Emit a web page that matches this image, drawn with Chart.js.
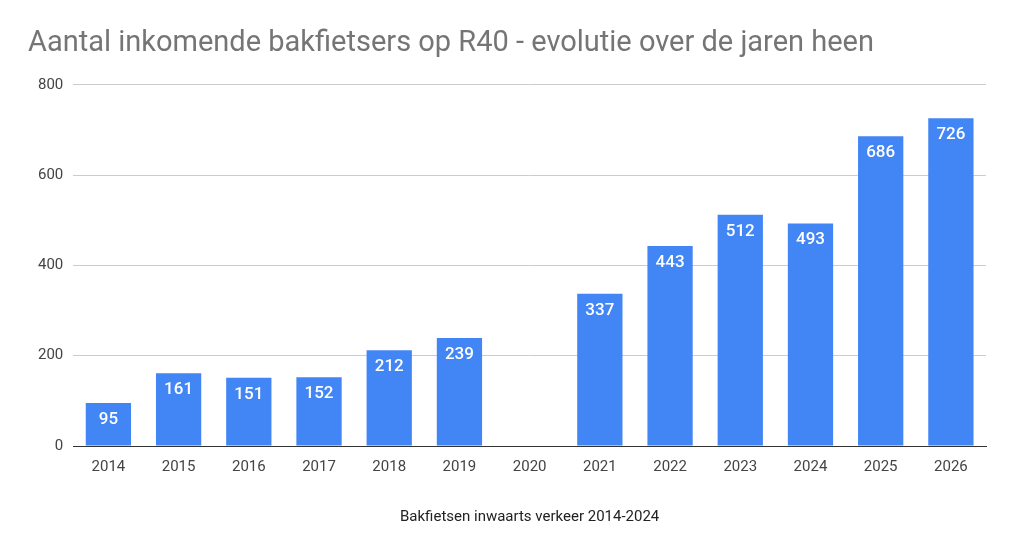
<!DOCTYPE html>
<html><head><meta charset="utf-8">
<script src="https://cdn.jsdelivr.net/npm/chart.js@4"></script>
<style>html,body{margin:0;padding:0;background:#fff}#w{width:1024px;height:554px;position:relative}</style>
</head><body><div id="w"><canvas id="c"></canvas></div>
<script>
const categories = ['2014','2015','2016','2017','2018','2019','2020','2021','2022','2023','2024','2025','2026'];
const values = [95,161,151,152,212,239,null,337,443,512,493,686,726];
const yTicks = [0,200,400,600,800];
const labelPlugin = {
  id:'lbl',
  afterDatasetsDraw(chart){
    const ctx=chart.ctx, meta=chart.getDatasetMeta(0);
    ctx.save();ctx.fillStyle='#fff';ctx.font='500 17px Roboto';ctx.textAlign='center';ctx.textBaseline='top';
    meta.data.forEach((b,i)=>{ if(values[i]==null) return; ctx.fillText(String(values[i]), b.x, b.y+8); });
    ctx.restore();
  }
};
new Chart(document.getElementById('c'),{
  type:'bar',
  data:{labels:categories,datasets:[{data:values,backgroundColor:'#4285f4',categoryPercentage:0.645,barPercentage:1}]},
  options:{
    responsive:true,maintainAspectRatio:false,animation:false,
    layout:{padding:{left:28,right:38,top:8,bottom:24}},
    plugins:{legend:{display:false},tooltip:{enabled:false},
      title:{display:true,text:'Aantal inkomende bakfietsers op R40 - evolutie over de jaren heen',align:'start',color:'#757575',font:{family:'Roboto',size:29,weight:'normal'},padding:{top:18,bottom:24}}},
    scales:{
      x:{grid:{display:false},border:{color:'#333'},ticks:{color:'#444',padding:4,font:{family:'Roboto',size:15}},
        title:{display:true,text:'Bakfietsen inwaarts verkeer 2014-2024',color:'#222',font:{family:'Roboto',size:15},padding:{top:28}}},
      y:{min:0,max:800,afterBuildTicks(a){a.ticks=yTicks.map(v=>({value:v}));},
        grid:{color:'#ccc',drawTicks:false},border:{display:false},
        ticks:{color:'#444',padding:10,font:{family:'Roboto',size:15}}}
    }
  },
  plugins:[labelPlugin]
});
</script></body></html>
